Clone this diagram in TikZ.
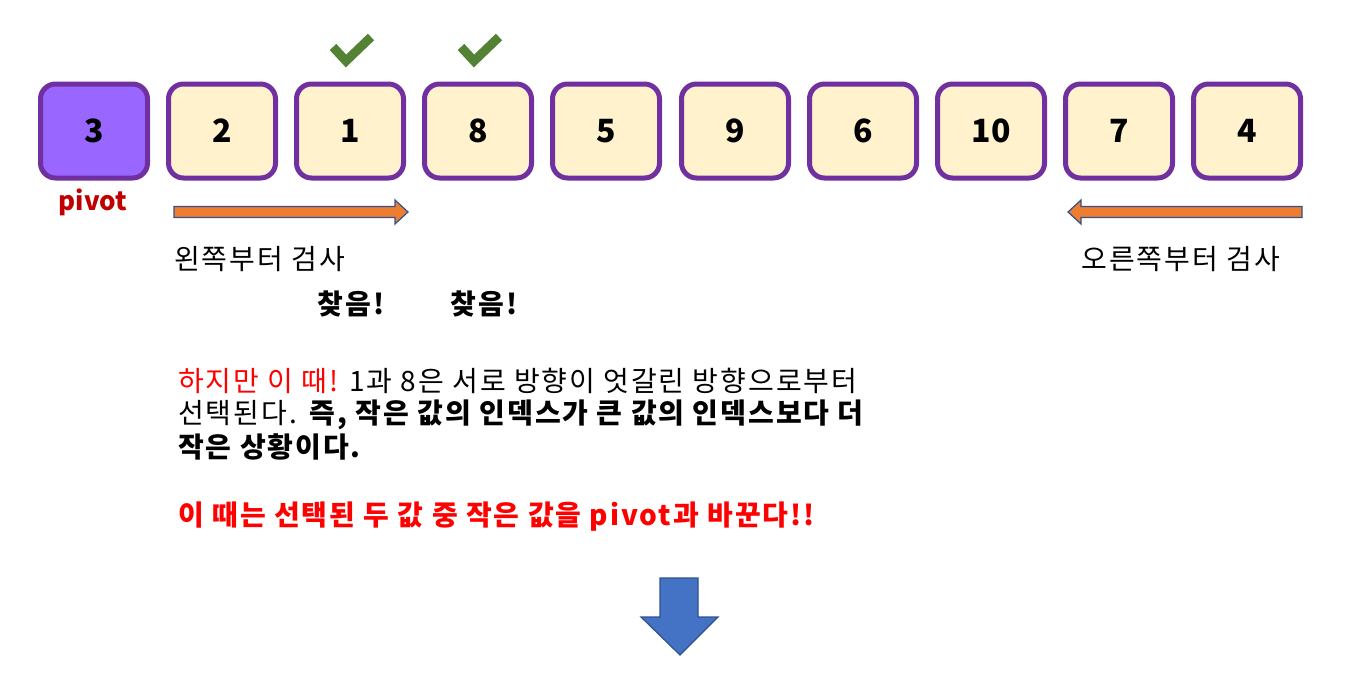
\documentclass[tikz,border=0pt]{standalone}
\usepackage{fontspec}
\setmainfont{Noto Sans CJK KR}[LetterSpace=7]
\newfontfamily\digitfont{Noto Sans CJK KR}
\definecolor{boxfill}{HTML}{FFF2CC}
\definecolor{boxline}{HTML}{7030A0}
\definecolor{pivfill}{HTML}{9966FF}
\definecolor{pivred}{HTML}{C00000}
\definecolor{chk}{HTML}{548235}
\definecolor{orng}{HTML}{ED7D31}
\definecolor{arrline}{HTML}{2F528F}
\definecolor{dblue}{HTML}{4472C4}
\definecolor{txtred}{HTML}{FF0000}
\tikzset{
  cell/.style={draw=boxline, fill=boxfill, line width=5pt, rounded corners=15pt,
    minimum width=107pt, minimum height=94pt, inner sep=0pt,
    font=\digitfont\fontsize{32}{34}\selectfont\bfseries},
  pivcell/.style={cell, fill=pivfill},
  checkmark/.style={draw=chk, line width=9pt},
  blockarrow/.style={fill=orng, draw=arrline, line width=1.2pt, line join=miter},
  downarrow/.style={fill=dblue, draw=arrline, line width=1.2pt},
  lbl/.style={inner sep=0pt, font=\fontsize{28}{30}\selectfont},
  body/.style={inner sep=0pt, anchor=west, font=\fontsize{28}{30}\selectfont},
}
\begin{document}
\begin{tikzpicture}[x=1pt,y=-1pt]
\useasboundingbox (0,0) rectangle (1349,693);
\node[pivcell] (c0) at (94,131) {3};
\node[cell] (c1) at (222,131) {2};
\node[cell] (c2) at (350,131) {1};
\node[cell] (c3) at (478,131) {8};
\node[cell] (c4) at (606,131) {5};
\node[cell] (c5) at (735,131) {9};
\node[cell] (c6) at (863,131) {6};
\node[cell] (c7) at (991,131) {10};
\node[cell] (c8) at (1119,131) {7};
\node[cell] (c9) at (1247,131) {4};
\node[lbl, text=pivred, font=\digitfont\fontsize{26}{28}\selectfont\bfseries] (pv) at (93,202) {pivot};
% checkmarks
\draw[checkmark] (333,47) -- (346,61) -- (371,37);
\draw[checkmark] (461,47) -- (474,61) -- (499,37);
% right arrow
\draw[blockarrow] (174,206.5) -- (395,206.5) -- (395,200) -- (408,212) -- (395,224) -- (395,217.5) -- (174,217.5) -- cycle;
% left arrow
\draw[blockarrow] (1302,206.5) -- (1081,206.5) -- (1081,200) -- (1068,212) -- (1081,224) -- (1081,217.5) -- (1302,217.5) -- cycle;
\node[lbl, anchor=west] (lt) at (174,259) {왼쪽부터 검사};
\node[lbl, anchor=east] (rt) at (1280,259) {오른쪽부터 검사};
\node[lbl, font=\fontsize{28}{30}\selectfont\bfseries] (f1) at (351,304) {찾음!};
\node[lbl, font=\fontsize{28}{30}\selectfont\bfseries] (f2) at (484,304) {찾음!};
\node[body] (l1) at (178,381) {\textcolor{txtred}{하지만 이 때!} 1과 8은 서로 방향이 엇갈린 방향으로부터};
\node[body] (l2) at (178,415) {선택된다.\textbf{ 즉, 작은 값의 인덱스가 큰 값의 인덱스보다 더}};
\node[body] (l3) at (178,447) {\textbf{작은 상황이다.}};
\node[body, text=txtred] (l4) at (178,517) {\textbf{이 때는 선택된 두 값 중 작은 값을 pivot과 바꾼다!!}};
% down arrow
\draw[downarrow] (660,578) -- (698,578) -- (698,617) -- (718,617) -- (680,655) -- (641,617) -- (660,617) -- cycle;
\end{tikzpicture}
\end{document}
